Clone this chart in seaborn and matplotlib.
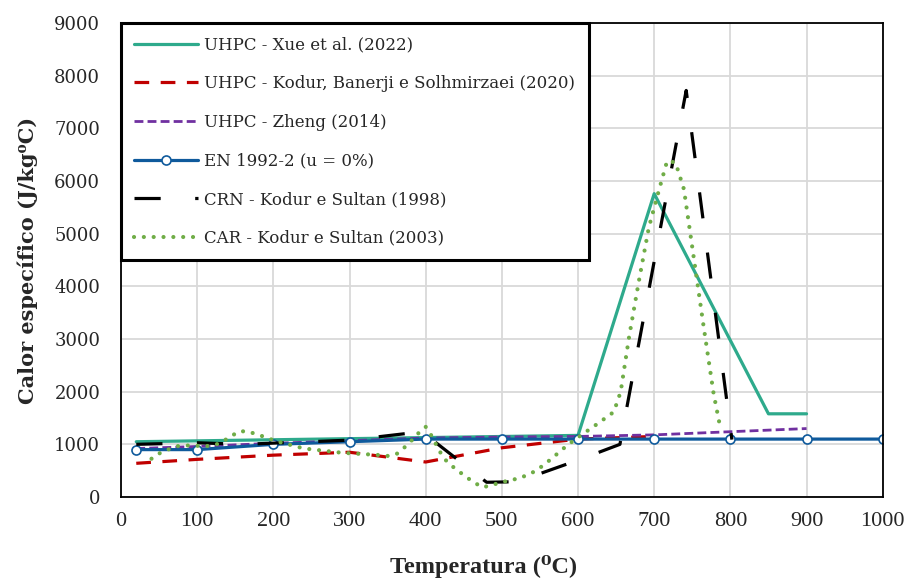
import matplotlib
matplotlib.use("Agg")
import matplotlib.pyplot as plt
import seaborn as sns
import pandas as pd

# ---- data ----
xue_T = [20, 600, 700, 850, 900]
xue_c = [1050, 1170, 5760, 1580, 1580]

kodur_T = [20, 100, 200, 300, 400, 500, 600, 700]
kodur_c = [640, 715, 795, 850, 665, 935, 1100, 1150]

zheng_T = [20, 100, 200, 300, 400, 500, 600, 700, 800, 900]
zheng_c = [920, 960, 1020, 1070, 1120, 1140, 1150, 1180, 1240, 1300]

en_T = [20, 100, 200, 300, 400, 500, 600, 700, 800, 900, 1000]
en_c = [900, 900, 1000, 1050, 1100, 1100, 1100, 1100, 1100, 1100, 1100]

crn_T = [20, 100, 160, 300, 395, 480, 520, 600, 655, 742, 802]
crn_c = [1000, 1030, 1000, 1080, 1240, 280, 290, 700, 1000, 7720, 1090]

car_T = [40, 50, 62, 74, 86, 112, 124, 135, 145, 156, 167, 179, 191, 202, 240,
         290, 341, 352, 363, 373, 382, 390, 400, 406, 418, 424, 433, 443, 454,
         464, 475, 486, 498, 511, 523, 545, 564, 586, 604, 626, 647, 656, 667,
         680, 693, 706, 717, 728, 739, 750, 765, 778, 787]
car_c = [727, 826, 903, 966, 979, 966, 990, 1067, 1161, 1250, 1243, 1186, 1130,
         1067, 922, 840, 795, 777, 827, 953, 1080, 1206, 1332, 1206, 878, 732,
         606, 492, 372, 271, 183, 227, 271, 322, 353, 498, 713, 985, 1174, 1395,
         1616, 2000, 3037, 4110, 5120, 5814, 6383, 6350, 5846, 4741, 3226, 1963,
         1300]

labels = ["UHPC - Xue et al. (2022)",
          "UHPC - Kodur, Banerji e Solhmirzaei (2020)",
          "UHPC - Zheng (2014)",
          "EN 1992-2 (u = 0%)",
          "CRN - Kodur e Sultan (1998)",
          "CAR - Kodur e Sultan (2003)"]

x_ticks = [0, 100, 200, 300, 400, 500, 600, 700, 800, 900, 1000]
y_ticks = [0, 1000, 2000, 3000, 4000, 5000, 6000, 7000, 8000, 9000]

sns.set_theme(style="white")
plt.rcParams['font.family'] = ['DejaVu Serif', 'Liberation Serif']

fig = plt.figure(figsize=(9.1, 5.79), dpi=100)
ax = fig.add_axes([0.133, 0.1416, 0.837, 0.8186])

series = [
    (xue_T, xue_c, dict(color="#2EAA8C", lw=2.3, linestyle="-")),
    (kodur_T, kodur_c, dict(color="#C00000", lw=2.3, linestyle=(0, (4.6, 3.6)))),
    (zheng_T, zheng_c, dict(color="#7030A0", lw=2.0, linestyle=(0, (3.2, 1.5)))),
    (en_T, en_c, dict(color="#0F5A9C", lw=2.3, linestyle="-", marker="o",
                      markersize=6.5, markerfacecolor="white",
                      markeredgecolor="#0F5A9C", markeredgewidth=1.2)),
    (crn_T, crn_c, dict(color="black", lw=2.3, linestyle=(0, (8.2, 10.8)))),
    (car_T, car_c, dict(color="#70AD47", lw=3.0, linestyle=(0, (0.01, 2.35)),
                        dash_capstyle="round")),
]

for (T, c, kw), lab in zip(series, labels):
    df = pd.DataFrame({"T": T, "c": c})
    sns.lineplot(data=df, x="T", y="c", ax=ax, sort=False, label=lab, **kw)

ax.set_xlim(0, 1000)
ax.set_ylim(0, 9000)
ax.set_xticks(x_ticks)
ax.set_yticks(y_ticks)
ax.set_xticklabels([str(v) for v in x_ticks], fontsize=16,
                   family=['Liberation Serif', 'DejaVu Serif'])
ax.set_yticklabels([str(v) for v in y_ticks], fontsize=13)
ax.tick_params(axis="both", length=0)
ax.tick_params(axis="y", pad=15)
ax.tick_params(axis="x", pad=11)
ax.grid(True, color="#D9D9D9", lw=1.3)
ax.set_axisbelow(True)
for sp in ax.spines.values():
    sp.set_color("black")
    sp.set_linewidth(1.3)
    sp.set_visible(True)

ax.set_xlabel("Temperatura (\u2070C)", fontsize=17.5, fontweight="bold",
              family=['Liberation Serif', 'DejaVu Serif'], va="center")
ax.xaxis.set_label_coords(0.476, -0.146)
ax.set_ylabel("Calor específico (J/kg\u2070C)", fontsize=15, fontweight="bold",
              labelpad=12)

leg = ax.legend(loc="upper left", bbox_to_anchor=(0, 1), borderaxespad=0,
                fontsize=12, handlelength=3.8, handletextpad=0.4,
                labelspacing=1.3, borderpad=0.8, fancybox=False,
                framealpha=1, edgecolor="black")
leg.get_frame().set_linewidth(2.2)
leg.set_zorder(10)

fig.savefig("out.png", dpi=100)
